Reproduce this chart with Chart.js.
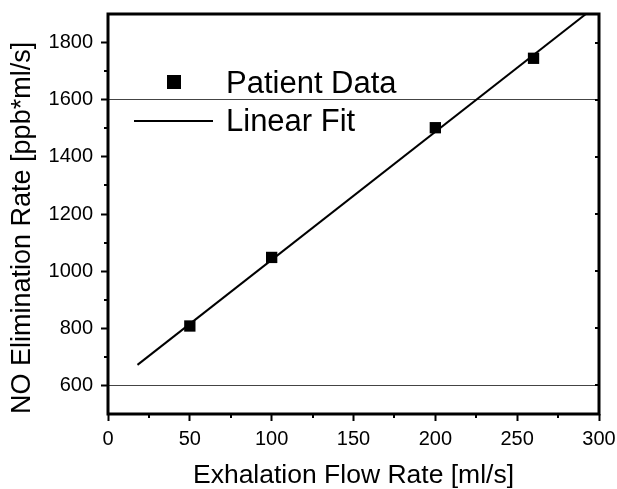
<!DOCTYPE html>
<html>
<head>
<meta charset="utf-8">
<script src="https://cdn.jsdelivr.net/npm/chart.js@4.4.1/dist/chart.umd.min.js"></script>
<style>
  html, body { margin: 0; padding: 0; background: #fff; }
  #wrap { width: 617px; height: 489px; }
</style>
</head>
<body>
<div id="wrap"><canvas id="chart" width="617" height="489"></canvas></div>
<script>
  // measured values
  var flowRates = [50, 100, 200, 260];
  var elimRates = [808, 1048, 1502, 1745];
  var fitX = [18, 292];
  var fitY = [672, 1900];

  // axes
  var xTicks = [0, 50, 100, 150, 200, 250, 300];
  var yTicks = [600, 800, 1000, 1200, 1400, 1600, 1800];
  var xMinor = [25, 75, 125, 175, 225, 275];
  var yMinor = [700, 900, 1100, 1300, 1500, 1700];
  var refLines = [600, 1600];

  var FONT = '"Liberation Sans", Arial, Helvetica, sans-serif';

  function pairs(xs, ys) {
    return xs.map(function(x, i) { return { x: x, y: ys[i] }; });
  }

  // box round the plot + minor ticks
  var framePlugin = {
    id: 'frame',
    afterDatasetsDraw: function(chart) {
      var ctx = chart.ctx;
      var a = chart.chartArea;
      var xs = chart.scales.x, ys = chart.scales.y;
      ctx.save();
      ctx.strokeStyle = '#000';
      ctx.lineWidth = 2;
      xMinor.forEach(function(v) {
        var px = Math.round(xs.getPixelForValue(v));
        ctx.beginPath(); ctx.moveTo(px, a.bottom); ctx.lineTo(px, a.bottom + 4); ctx.stroke();
      });
      yMinor.forEach(function(v) {
        var py = Math.round(ys.getPixelForValue(v));
        ctx.beginPath(); ctx.moveTo(a.left, py); ctx.lineTo(a.left - 4, py); ctx.stroke();
      });
      yTicks.forEach(function(v) {
        var py = Math.round(ys.getPixelForValue(v));
        ctx.beginPath(); ctx.moveTo(a.right, py); ctx.lineTo(a.right - 4, py); ctx.stroke();
      });
      ctx.lineWidth = 3;
      ctx.strokeRect(a.left, a.top, a.right - a.left, a.bottom - a.top);
      ctx.restore();
    }
  };

  var legendPlugin = {
    id: 'legendBox',
    afterDraw: function(chart) {
      var ctx = chart.ctx;
      var a = chart.chartArea;
      var sets = chart.data.datasets;
      var cx = a.left + 66;
      var textX = a.left + 118;
      ctx.save();
      ctx.font = '31px ' + FONT;
      ctx.fillStyle = '#000';
      ctx.textBaseline = 'alphabetic';
      // row 1: markers
      var y1 = a.top + 68;
      ctx.fillRect(cx - 7, y1 - 7, 14, 14);
      ctx.fillText(sets[0].label, textX, a.top + 79);
      // row 2: line
      var y2 = a.top + 107;
      ctx.strokeStyle = '#000';
      ctx.lineWidth = 2;
      ctx.beginPath(); ctx.moveTo(a.left + 26, y2); ctx.lineTo(a.left + 105, y2); ctx.stroke();
      ctx.fillText(sets[1].label, textX, a.top + 117);
      ctx.restore();
    }
  };

  function plain(v) { return String(v); }

  new Chart(document.getElementById('chart'), {
    type: 'scatter',
    data: {
      datasets: [
        {
          label: 'Patient Data',
          data: pairs(flowRates, elimRates),
          pointStyle: 'rect',
          pointRadius: 8,
          backgroundColor: '#000',
          borderColor: '#000',
          borderWidth: 0,
          order: 1
        },
        {
          label: 'Linear Fit',
          data: pairs(fitX, fitY),
          showLine: true,
          pointRadius: 0,
          borderColor: '#000',
          borderWidth: 2,
          order: 2
        }
      ]
    },
    options: {
      responsive: false,
      animation: false,
      layout: { padding: { top: 14, right: 18, left: 0, bottom: 0 } },
      plugins: {
        legend: { display: false },
        tooltip: { enabled: false }
      },
      scales: {
        x: {
          type: 'linear',
          min: 0,
          max: 300,
          afterBuildTicks: function(s) { s.ticks = xTicks.map(function(v) { return { value: v }; }); },
          afterFit: function(s) { s.height = 75; s.paddingLeft = 0; s.paddingRight = 0; },
          border: { display: false },
          grid: {
            color: 'transparent',
            tickColor: '#000',
            tickLength: 7,
            tickWidth: 2
          },
          ticks: {
            color: '#000',
            padding: 6,
            maxRotation: 0,
            callback: plain,
            font: { family: FONT, size: 20 }
          },
          title: {
            display: true,
            text: 'Exhalation Flow Rate [ml/s]',
            color: '#000',
            padding: { top: 0, bottom: 0 },
            font: { family: FONT, size: 26.5, lineHeight: 1 }
          }
        },
        y: {
          type: 'linear',
          min: 500,
          max: 1900,
          afterBuildTicks: function(s) { s.ticks = yTicks.map(function(v) { return { value: v }; }); },
          afterFit: function(s) { s.width = 108; s.paddingTop = 0; s.paddingBottom = 0; },
          border: { display: false },
          grid: {
            color: function(c) {
              return c.tick && refLines.indexOf(c.tick.value) >= 0 ? '#444' : 'transparent';
            },
            lineWidth: 1,
            tickColor: '#000',
            tickLength: 7,
            tickWidth: 2
          },
          ticks: {
            color: '#000',
            padding: 8,
            callback: plain,
            font: { family: FONT, size: 20 }
          },
          title: {
            display: true,
            align: 'start',
            text: 'NO Elimination Rate [ppb*ml/s]',
            color: '#000',
            padding: { top: 9, bottom: 0 },
            font: { family: FONT, size: 27, lineHeight: 1 }
          }
        }
      }
    },
    plugins: [framePlugin, legendPlugin]
  });
</script>
</body>
</html>
